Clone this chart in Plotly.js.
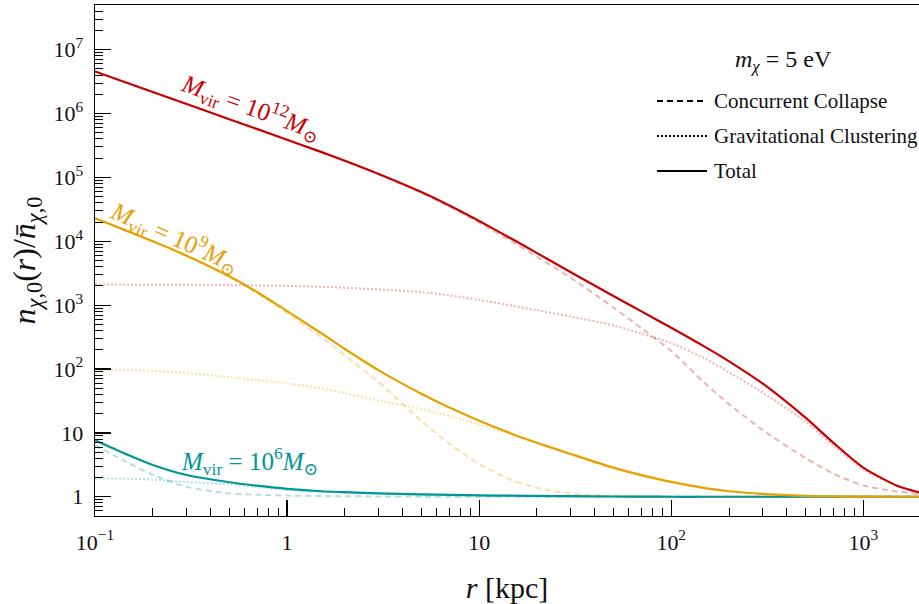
<!DOCTYPE html>
<html><head><meta charset="utf-8">
<script src="https://cdn.plot.ly/plotly-3.0.1.min.js"></script>
<style>html,body{margin:0;padding:0;background:#fff;}#chart{width:919px;height:604px;}</style>
</head><body><div id="chart"></div>
<script>
// radius grid (kpc)
const r_kpc = [0.1, 0.15, 0.2, 0.3, 0.5, 0.7, 1, 1.5, 2, 3, 5, 7, 10, 15, 20, 30, 50, 70, 100, 150, 200, 300, 500, 700, 1000, 1500, 2000];

// M_vir = 1e12 Msun
const m12_total = [4.56e6, 2.96e6, 2.17e6, 1.41e6, 8.15e5, 5.69e5, 3.88e5, 2.51e5, 1.82e5, 1.13e5, 5.89e4, 3.64e4, 2.08e4, 1.064e4, 6530, 3280, 1390, 798, 443, 222, 132, 58.9, 17.3, 6.97, 2.86, 1.49, 1.15];
const m12_cc    = [4.56e6, 2.96e6, 2.17e6, 1.41e6, 8.13e5, 5.67e5, 3.86e5, 2.49e5, 1.80e5, 1.11e5, 5.73e4, 3.5e4, 1.96e4, 9660, 5700, 2680, 920, 434, 191, 59.8, 28.2, 11.0, 4.04, 2.30, 1.50, 1.21, 1.09];
const m12_gc    = [2100, 2095, 2090, 2080, 2060, 2035, 2000, 1940, 1880, 1760, 1600, 1420, 1210, 977, 834, 662, 482, 358, 254, 146, 88.5, 42.7, 15.0, 6.32, 2.68, 1.47, 1.14];

// M_vir = 1e9 Msun
const m9_total = [23000, 14160, 9980, 5940, 2830, 1590, 807, 366, 206, 95.3, 41.0, 24.9, 15.5, 9.55, 7.01, 4.68, 2.86, 2.18, 1.71, 1.37, 1.22, 1.11, 1.03, 1.012, 1.005, 1.0, 1.0];
const m9_cc    = [22900, 14060, 9890, 5850, 2755, 1523, 747, 316, 164, 62, 15.5, 6.76, 3.24, 1.80, 1.38, 1.12, 1.035, 1.012, 1.004, 1.0, 1.0, 1.0, 1.0, 1.0, 1.0, 1.0, 1.0];
const m9_gc    = [98, 96, 93, 87, 75, 67, 59.6, 50, 42, 32, 23.6, 18.5, 13.6, 9.18, 6.89, 4.57, 2.80, 2.10, 1.69, 1.36, 1.22, 1.11, 1.03, 1.012, 1.005, 1.0, 1.0];

// M_vir = 1e6 Msun
const m6_total = [7.66, 4.46, 3.15, 2.19, 1.69, 1.49, 1.33, 1.22, 1.18, 1.13, 1.09, 1.07, 1.05, 1.04, 1.03, 1.02, 1.01, 1.005, 1.0, 1.0, 1.0, 1.0, 1.0, 1.0, 1.0, 1.0, 1.0];
const m6_cc    = [6.4, 3.37, 2.2, 1.43, 1.13, 1.075, 1.045, 1.025, 1.02, 1.01, 1.005, 1.0, 1.0, 1.0, 1.0, 1.0, 1.0, 1.0, 1.0, 1.0, 1.0, 1.0, 1.0, 1.0, 1.0, 1.0, 1.0];
const m6_gc    = [1.95, 1.91, 1.85, 1.70, 1.56, 1.415, 1.285, 1.195, 1.16, 1.12, 1.085, 1.07, 1.05, 1.04, 1.03, 1.02, 1.01, 1.005, 1.0, 1.0, 1.0, 1.0, 1.0, 1.0, 1.0, 1.0, 1.0];

const xTickVals = [0.1, 1, 10, 100, 1000];
const xTickText = ['10<sup>−1</sup>', '1', '10', '10<sup>2</sup>', '10<sup>3</sup>'];
const yTickVals = [1, 10, 100, 1e3, 1e4, 1e5, 1e6, 1e7];
const yTickText = ['1', '10', '10<sup>2</sup>', '10<sup>3</sup>', '10<sup>4</sup>', '10<sup>5</sup>', '10<sup>6</sup>', '10<sup>7</sup>'];

const legendLabels = ['Concurrent Collapse', 'Gravitational Clustering', 'Total'];
const legendTitle = '<i>m</i><sub><i>χ</i></sub> = 5 eV';
const labels12 = '<i>M</i><sub>vir</sub> = 10<sup>12</sup><i>M</i><sub>⊙</sub>';
const labels9  = '<i>M</i><sub>vir</sub> = 10<sup>9</sup><i>M</i><sub>⊙</sub>';
const labels6  = '<i>M</i><sub>vir</sub> = 10<sup>6</sup><i>M</i><sub>⊙</sub>';

const FONT = 'Liberation Serif, DejaVu Serif, serif';
const RED = 'rgb(200,0,0)', RED_L = 'rgba(200,0,0,0.3)';
const ORG = 'rgb(230,160,0)', ORG_L = 'rgba(230,160,0,0.33)';
const TEAL = 'rgb(0,150,150)', TEAL_L = 'rgba(0,150,150,0.3)';
const DASH = '6px,4px', DOT = '2px,2px';

function minorTicks(lo, hi) {
  const out = [];
  for (let e = lo; e <= hi; e++) for (let k = 2; k <= 9; k++) out.push(k * Math.pow(10, e));
  return out;
}

function tr(y, color, dash, width) {
  return {x: r_kpc, y: y, type: 'scatter', mode: 'lines', showlegend: false, hoverinfo: 'skip',
          line: {color: color, dash: dash, width: width, shape: 'spline', smoothing: 0.7}};
}

const data = [
  tr(m6_cc, TEAL_L, DASH, 2), tr(m6_gc, TEAL_L, DOT, 2),
  tr(m9_cc, ORG_L, DASH, 2), tr(m9_gc, ORG_L, DOT, 2),
  tr(m12_cc, RED_L, DASH, 2), tr(m12_gc, RED_L, DOT, 2),
  tr(m6_total, TEAL, 'solid', 2.2),
  tr(m9_total, ORG, 'solid', 2.2),
  tr(m12_total, RED, 'solid', 2.2)
];

// plot area in pixels
const L = 95, T = 5, B = 88, W = 919, H = 604;
const PW = W - L, PH = H - T - B;
const px = v => (v - L) / PW;
const py = v => (H - B - v) / PH;

const legendRows = [101, 136, 171];
const legendDash = [DASH, DOT, 'solid'];
const shapes = legendRows.map((yy, i) => ({
  type: 'line', xref: 'paper', yref: 'paper', x0: px(657), x1: px(707), y0: py(yy), y1: py(yy),
  line: {color: '#000', width: 2, dash: legendDash[i]}
}));
const annotations = legendRows.map((yy, i) => ({
  xref: 'paper', yref: 'paper', x: px(712), y: py(yy), xanchor: 'left', yanchor: 'middle',
  text: legendLabels[i], showarrow: false, font: {family: FONT, size: 21, color: '#111'}
}));
annotations.push({xref: 'paper', yref: 'paper', x: px(783), y: py(61), xanchor: 'center', yanchor: 'middle',
  text: legendTitle, showarrow: false, font: {family: FONT, size: 24, color: '#111'}});
annotations.push({x: Math.log10(0.65), y: Math.log10(1.25e6), text: labels12, showarrow: false, textangle: 20,
  font: {family: FONT, size: 25, color: RED}});
annotations.push({x: Math.log10(0.26), y: Math.log10(1.15e4), text: labels9, showarrow: false, textangle: 24,
  font: {family: FONT, size: 25, color: ORG}});
annotations.push({x: Math.log10(0.64), y: Math.log10(3.6), text: labels6, showarrow: false, textangle: 0,
  font: {family: FONT, size: 25, color: TEAL}});

const layout = {
  width: W, height: H,
  margin: {l: L, r: 0, t: T, b: B},
  paper_bgcolor: '#fff', plot_bgcolor: '#fff',
  font: {family: FONT, color: '#111'},
  showlegend: false,
  xaxis: {
    type: 'log', range: [-1, Math.log10(1950)], showgrid: false, zeroline: false,
    showline: true, linecolor: '#000', linewidth: 1.3, mirror: true,
    ticks: 'inside', ticklen: 16, tickwidth: 1.2, tickcolor: '#000',
    tickmode: 'array', tickvals: xTickVals, ticktext: xTickText,
    tickfont: {family: FONT, size: 22, color: '#111'}, ticklabelstandoff: 6,
    minor: {tickmode: 'array', tickvals: minorTicks(-1, 3), ticks: 'inside', ticklen: 8, tickwidth: 1, tickcolor: '#000', showgrid: false},
    title: {text: '<i>r</i> [kpc]', font: {family: FONT, size: 30, color: '#111'}, standoff: 23}
  },
  yaxis: {
    type: 'log', range: [Math.log10(0.5), Math.log10(5e7)], showgrid: false, zeroline: false,
    showline: true, linecolor: '#000', linewidth: 1.3, mirror: false,
    ticks: 'inside', ticklen: 16, tickwidth: 1.2, tickcolor: '#000',
    tickmode: 'array', tickvals: yTickVals, ticktext: yTickText,
    tickfont: {family: FONT, size: 22, color: '#111'}, ticklabelstandoff: 6,
    minor: {tickmode: 'array', tickvals: minorTicks(-1, 7), ticks: 'inside', ticklen: 8, tickwidth: 1, tickcolor: '#000', showgrid: false},
    title: {text: '<i>n</i><sub><i>χ</i>,0</sub>(<i>r</i>)/<i>n̄</i><sub><i>χ</i>,0</sub>', font: {family: FONT, size: 32, color: '#111'}, standoff: 8}
  },
  shapes: shapes,
  annotations: annotations
};

Plotly.newPlot('chart', data, layout, {staticPlot: true, displayModeBar: false});
</script>
</body></html>
